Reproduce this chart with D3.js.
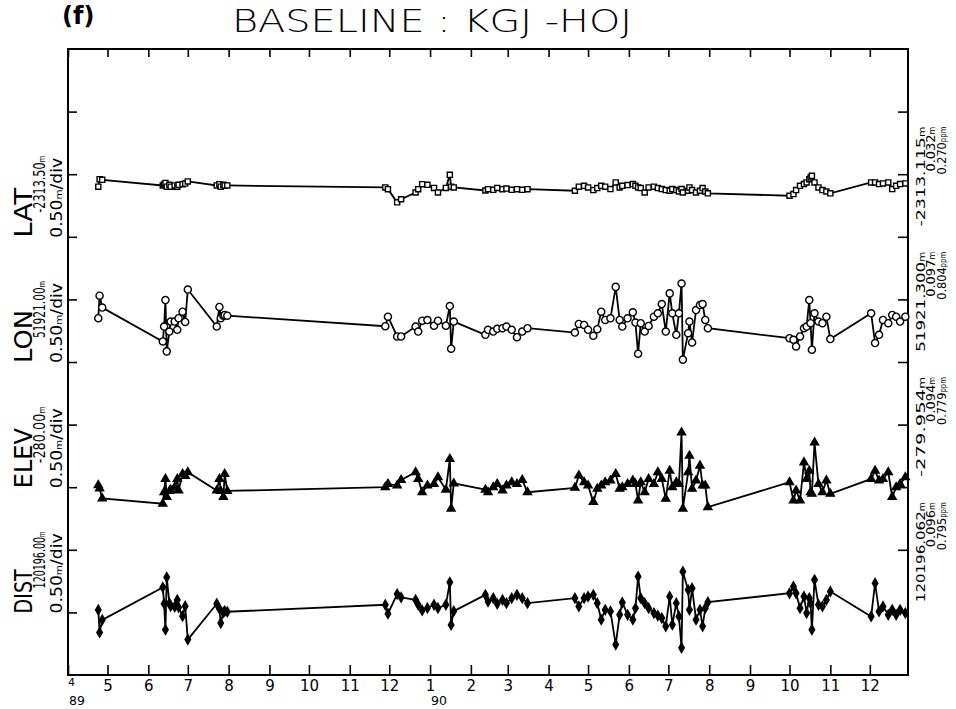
<!DOCTYPE html>
<html>
<head>
<meta charset="utf-8">
<script src="https://cdn.jsdelivr.net/npm/d3@7"></script>
<style>
  body { margin: 0; background: #fff; }
  svg { display: block; }
  text { font-family: "DejaVu Sans", sans-serif; fill: #000; }
</style>
</head>
<body>
<svg id="chart"></svg>
<script>
// observation epochs (one per session)
const dates = [
  "1989-04-24", "1989-04-25", "1989-04-27",
  "1989-06-12", "1989-06-13", "1989-06-14", "1989-06-15", "1989-06-17", "1989-06-18",
  "1989-06-21", "1989-06-23", "1989-06-24", "1989-06-27", "1989-06-29", "1989-07-01",
  "1989-07-23", "1989-07-25", "1989-07-26", "1989-07-28", "1989-07-29", "1989-07-31",
  "1989-11-28", "1989-11-30", "1989-12-07", "1989-12-10", "1989-12-21", "1989-12-23",
  "1989-12-26", "1989-12-30", "1990-01-04", "1990-01-07", "1990-01-13", "1990-01-16",
  "1990-01-17", "1990-01-19",
  "1990-02-12", "1990-02-14", "1990-02-18", "1990-02-21", "1990-02-25", "1990-02-28",
  "1990-03-04", "1990-03-08", "1990-03-12", "1990-03-16",
  "1990-04-21", "1990-04-24", "1990-04-28", "1990-05-01", "1990-05-05", "1990-05-08",
  "1990-05-11", "1990-05-14", "1990-05-18", "1990-05-22", "1990-05-25", "1990-05-27",
  "1990-05-31", "1990-06-04", "1990-06-06", "1990-06-08", "1990-06-10", "1990-06-13",
  "1990-06-16", "1990-06-20", "1990-06-23", "1990-06-26", "1990-06-29", "1990-07-02",
  "1990-07-04", "1990-07-07", "1990-07-09", "1990-07-11", "1990-07-12", "1990-07-16",
  "1990-07-17", "1990-07-19", "1990-07-22", "1990-07-25", "1990-07-27", "1990-07-29",
  "1990-07-31",
  "1990-10-01", "1990-10-04", "1990-10-06", "1990-10-09", "1990-10-12", "1990-10-14",
  "1990-10-16", "1990-10-17", "1990-10-18", "1990-10-20", "1990-10-23", "1990-10-26",
  "1990-10-29", "1990-11-01",
  "1990-12-02", "1990-12-05", "1990-12-08", "1990-12-11", "1990-12-15", "1990-12-18",
  "1990-12-21", "1990-12-24", "1990-12-28"
];

// residuals in metres from each reference value
const lat = [
  -0.10, -0.04, -0.045,
  -0.09, -0.08, -0.07, -0.10, -0.085, -0.10, -0.09, -0.10, -0.085, -0.08, -0.075, -0.058,
  -0.09, -0.08, -0.10, -0.085, -0.09, -0.09,
  -0.106, -0.12, -0.225, -0.20, -0.146, -0.12, -0.08, -0.085, -0.11, -0.146, -0.11, -0.005, -0.10, -0.106,
  -0.13, -0.12, -0.125, -0.11, -0.12, -0.115, -0.125, -0.12, -0.125, -0.12,
  -0.132, -0.10, -0.093, -0.106, -0.127, -0.111, -0.093, -0.10, -0.119, -0.066,
  -0.106, -0.093, -0.087, -0.079, -0.093, -0.106, -0.111, -0.146, -0.106, -0.10,
  -0.111, -0.119, -0.127, -0.132, -0.119, -0.127, -0.138, -0.119, -0.146, -0.132,
  -0.106, -0.127, -0.146, -0.132, -0.111, -0.138, -0.153,
  -0.172, -0.159, -0.127, -0.093, -0.079, -0.066, -0.04, -0.026, -0.013, -0.066,
  -0.106, -0.127, -0.138, -0.153,
  -0.066, -0.066, -0.079, -0.074, -0.066, -0.119, -0.093, -0.079, -0.074
];
const lon = [
  -0.15, 0.03, -0.065,
  -0.336, -0.217, -0.005, -0.415, -0.257, -0.177, -0.177, -0.243, -0.15, -0.098, -0.18, 0.079,
  -0.217, -0.06, -0.15, -0.13, -0.124, -0.13,
  -0.214, -0.138, -0.296, -0.296, -0.217, -0.257, -0.17, -0.165, -0.21, -0.17, -0.21, -0.053, -0.394, -0.177,
  -0.283, -0.243, -0.257, -0.235, -0.23, -0.217, -0.243, -0.302, -0.257, -0.23,
  -0.265, -0.196, -0.204, -0.243, -0.291, -0.238, -0.098, -0.164, -0.151, 0.10,
  -0.164, -0.217, -0.151, -0.103, -0.185, -0.434, -0.19, -0.257, -0.212, -0.138,
  -0.111, -0.037, -0.257, 0.048, -0.111, -0.283, -0.111, 0.127, -0.481, -0.27,
  -0.177, -0.344, -0.085, -0.045, -0.037, -0.164, -0.23,
  -0.31, -0.323, -0.376, -0.296, -0.23, -0.217, -0.005, -0.19, -0.402, -0.111,
  -0.177, -0.19, -0.138, -0.317,
  -0.111, -0.349, -0.283, -0.164, -0.19, -0.124, -0.138, -0.177, -0.138
];
const elev = [
  0.015, -0.01, -0.09,
  -0.132, -0.04, 0.066, -0.079, -0.03, -0.02, 0.0, 0.066, -0.026, 0.106, 0.09, 0.119,
  -0.026, 0.066, -0.03, -0.079, 0.106, -0.03,
  0.0, 0.026, 0.013, 0.058, 0.119, 0.066, -0.04, 0.013, 0.026, 0.079, -0.02, 0.225, -0.172, 0.03,
  -0.02, -0.04, 0.0, 0.026, -0.026, 0.013, 0.04, 0.026, 0.058, -0.04,
  -0.005, 0.093, 0.04, 0.013, -0.119, -0.013, 0.013, 0.04, 0.053, 0.106,
  -0.013, 0.0, 0.026, 0.053, 0.026, -0.106, 0.04, -0.04, 0.066, 0.026,
  0.119, 0.066, -0.093, 0.132, 0.0, 0.04, 0.026, 0.437, -0.172, 0.119,
  0.251, -0.013, 0.053, 0.172, 0.013, 0.013, -0.159,
  0.04, -0.106, -0.026, -0.106, 0.198, 0.066, 0.132, -0.04, -0.053, 0.357,
  0.026, -0.04, 0.053, -0.053,
  0.066, 0.132, 0.053, 0.066, 0.119, -0.079, 0.0, 0.026, 0.079
];
const dist = [
  0.02, -0.16, -0.06,
  0.2, 0.07, -0.138, 0.28, 0.074, 0.05, 0.045, 0.1, 0.04, -0.03, 0.05, -0.217,
  0.069, 0.03, -0.085, 0.0, 0.01, 0.005,
  0.061, -0.01, 0.146, 0.12, 0.1, 0.061, 0.016, 0.035, 0.061, 0.035, 0.061, 0.24, -0.1, 0.01,
  0.14, 0.087, 0.114, 0.069, 0.1, 0.074, 0.114, 0.14, 0.114, 0.074,
  0.114, 0.048, 0.114, 0.127, 0.14, 0.074, -0.058, 0.021, 0.008, -0.257,
  -0.019, 0.079, -0.019, -0.058, 0.034, 0.286, 0.114, 0.074, 0.034, -0.005,
  -0.026, -0.045, -0.111, 0.127, -0.098, 0.074, -0.032, -0.283, 0.325, 0.18,
  0.021, 0.193, -0.058, 0.021, -0.111, 0.034, 0.082,
  0.153, 0.206, 0.153, 0.034, 0.127, -0.005, 0.114, 0.074, -0.138, 0.26,
  0.061, 0.048, 0.1, 0.167,
  -0.032, 0.233, 0.008, 0.048, -0.019, 0.021, -0.019, 0.021, -0.005
];

const componentNames = ["LAT", "LON", "ELEV", "DIST"];
const refValues = ["-2313.50", "51921.00", "-280.00", "120196.00"];
const divText = "0.50";
const fitValues = ["-2313.115", "51921.300", "-279.954", "120196.062"];
const fitSigmas = ["0.032", "0.097", "0.094", "0.096"];
const fitPpm = ["0.270", "0.804", "0.779", "0.795"];
const monthLabels = ["4", "5", "6", "7", "8", "9", "10", "11", "12",
  "1", "2", "3", "4", "5", "6", "7", "8", "9", "10", "11", "12"];
const yearLabels = [["1989-04-01", "89"], ["1990-01-01", "90"]];

const W = 956, H = 709;
const L = 68, R = 908, T = 49, B = 675;
const mPerDiv = 0.5;

const svg = d3.select("#chart").attr("width", W).attr("height", H);
const parse = d3.timeParse("%Y-%m-%d");

const x = d3.scaleTime()
  .domain([new Date(1989, 3, 1), new Date(1990, 11, 30)])
  .range([L, R]);
const y = d3.scaleLinear().domain([0, 10]).range([B, T]);

// per panel: base division, label division, marker
const panels = [
  { vals: lat, base: 8, lab: 7, sym: d3.symbolSquare, size: 26, fill: "#fff", nameLen: 50 },
  { vals: lon, base: 6, lab: 5, sym: d3.symbolCircle, size: 40, fill: "#fff", nameLen: 53 },
  { vals: elev, base: 3, lab: 3, sym: d3.symbolTriangle, size: 28, fill: "#000", nameLen: 60 },
  { vals: dist, base: 1, lab: 1, sym: d3.symbolDiamond, size: 26, fill: "#000", nameLen: 44 }
];

const monthTicks = d3.timeMonth.range(new Date(1989, 3, 1), new Date(1990, 11, 2));
const divTicks = d3.range(1, 10);

// axes (ticks inside)
svg.append("g")
  .attr("transform", `translate(0,${B})`)
  .call(d3.axisBottom(x).tickValues(monthTicks)
    .tickFormat((d, i) => monthLabels[i])
    .tickSizeInner(-10).tickSizeOuter(0).tickPadding(5))
  .call((g) => g.select(".domain").remove())
  .call((g) => g.selectAll("text").attr("font-size", 15).attr("font-family", "DejaVu Sans"))
  .call((g) => g.select(".tick text").attr("font-size", 11).attr("dx", 3).attr("dy", "0.5em"));

svg.append("g")
  .attr("transform", `translate(0,${T})`)
  .call(d3.axisTop(x).tickValues(monthTicks).tickFormat("").tickSizeInner(-8).tickSizeOuter(0))
  .call((g) => g.select(".domain").remove());

svg.append("g")
  .attr("transform", `translate(${L},0)`)
  .call(d3.axisLeft(y).tickValues(divTicks).tickFormat("").tickSizeInner(-9).tickSizeOuter(0))
  .call((g) => g.select(".domain").remove());

svg.append("g")
  .attr("transform", `translate(${R},0)`)
  .call(d3.axisRight(y).tickValues(divTicks).tickFormat("").tickSizeInner(-10).tickSizeOuter(0))
  .call((g) => g.select(".domain").remove());

svg.selectAll(".tick line").attr("stroke", "#000").attr("stroke-width", 1.6);

svg.append("rect")
  .attr("x", L).attr("y", T).attr("width", R - L).attr("height", B - T)
  .attr("fill", "none").attr("stroke", "#000").attr("stroke-width", 2);

svg.selectAll(".year")
  .data(yearLabels)
  .enter()
  .append("text")
  .attr("class", "year")
  .attr("x", (d) => x(parse(d[0])) + 9)
  .attr("y", 705)
  .attr("text-anchor", "middle")
  .attr("font-size", 12.5)
  .text((d) => d[1]);

// title
svg.append("text")
  .attr("x", 62).attr("y", 24)
  .attr("font-family", "DejaVu Sans Mono")
  .attr("font-weight", "bold")
  .attr("font-size", 24)
  .text("(f)");

svg.append("text")
  .attr("x", 232).attr("y", 32)
  .attr("font-size", 32)
  .attr("font-weight", 300)
  .attr("textLength", 400)
  .attr("lengthAdjust", "spacingAndGlyphs")
  .text("BASELINE : KGJ -HOJ");

// series
panels.forEach((p, k) => {
  const pts = dates.map((d, i) => ({ date: parse(d), v: p.vals[i] }));
  const py = (v) => y(p.base + v / mPerDiv);

  svg.append("path")
    .datum(pts)
    .attr("fill", "none")
    .attr("stroke", "#000")
    .attr("stroke-width", 1.8)
    .attr("d", d3.line().x((d) => x(d.date)).y((d) => py(d.v)));

  svg.append("g")
    .selectAll("path")
    .data(pts)
    .enter()
    .append("path")
    .attr("transform", (d) => `translate(${x(d.date)},${py(d.v)})`)
    .attr("d", d3.symbol().type(p.sym).size(p.size))
    .attr("fill", p.fill)
    .attr("stroke", "#000")
    .attr("stroke-width", 1.4);

  // left labels
  const y0 = y(p.lab) + 1;
  svg.append("text")
    .attr("transform", `translate(32,${y0}) rotate(-90)`)
    .attr("font-size", 25)
    .attr("textLength", p.nameLen)
    .attr("lengthAdjust", "spacingAndGlyphs")
    .text(componentNames[k]);

  const ref = svg.append("text")
    .attr("transform", `translate(45,${y0 - 82}) rotate(-90)`)
    .attr("text-anchor", "end")
    .attr("font-size", 15)
    .attr("textLength", 57)
    .attr("lengthAdjust", "spacingAndGlyphs");
  ref.append("tspan").text(refValues[k]);
  ref.append("tspan").attr("font-size", 9).text("m");

  const dv = svg.append("text")
    .attr("transform", `translate(62,${y0}) rotate(-90)`)
    .attr("font-size", 15)
    .attr("textLength", 80)
    .attr("lengthAdjust", "spacingAndGlyphs");
  dv.append("tspan").text(divText);
  dv.append("tspan").attr("font-size", 9).text("m");
  dv.append("tspan").text("/div");

  // right labels
  const yr = y(p.lab + 2) + 15;
  const right = [
    [fitValues[k], "m", 925, 100],
    [fitSigmas[k], "m", 935, 45],
    [fitPpm[k], "ppm", 946, 48]
  ];
  right.forEach(([num, unit, xx, len]) => {
    const t = svg.append("text")
      .attr("transform", `translate(${xx},${yr}) rotate(-90)`)
      .attr("text-anchor", "end")
      .attr("font-size", 13)
      .attr("textLength", len)
      .attr("lengthAdjust", "spacingAndGlyphs");
    t.append("tspan").text(num);
    t.append("tspan").attr("font-size", 8).text(unit);
  });
});
</script>
</body>
</html>
